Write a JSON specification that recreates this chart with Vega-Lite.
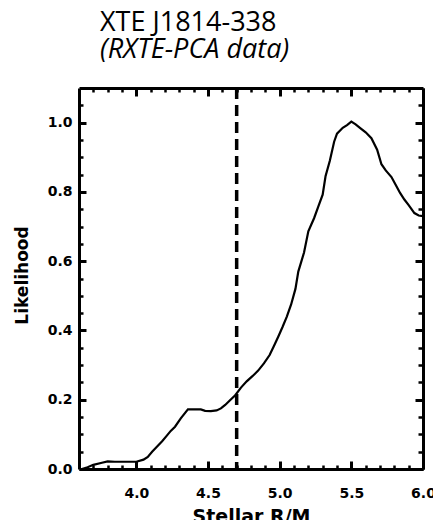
{
  "$schema": "https://vega.github.io/schema/vega-lite/v6.json",
  "width": 344,
  "height": 381,
  "autosize": {"type": "none"},
  "padding": {"left": 79, "top": 88, "right": 10, "bottom": 51},
  "background": "white",
  "title": {
    "text": "XTE J1814-338",
    "subtitle": "(RXTE-PCA data)",
    "anchor": "start",
    "frame": "group",
    "dx": 21,
    "offset": 17,
    "font": "Open Sans",
    "fontSize": 27,
    "fontWeight": "normal",
    "color": "black",
    "subtitleFont": "Open Sans",
    "subtitleFontSize": 27,
    "subtitleFontStyle": "italic",
    "subtitleColor": "black",
    "subtitlePadding": 0
  },
  "config": {
    "view": {"stroke": null},
    "axis": {
      "domainColor": "black",
      "domainWidth": 3,
      "labelColor": "black",
      "labelFont": "DejaVu Sans",
      "labelFontWeight": "bold",
      "labelFontSize": 14,
      "labelFlush": false,
      "labelOverlap": false,
      "titleColor": "black",
      "titleFont": "DejaVu Sans",
      "titleFontWeight": "bold",
      "titleFontSize": 17
    }
  },
  "datasets": {
    "curve": [
      {"R": 3.62, "L": 0.0},
      {"R": 3.66, "L": 0.005},
      {"R": 3.70, "L": 0.012},
      {"R": 3.76, "L": 0.018},
      {"R": 3.80, "L": 0.022},
      {"R": 3.85, "L": 0.021},
      {"R": 3.90, "L": 0.021},
      {"R": 4.00, "L": 0.021},
      {"R": 4.05, "L": 0.027},
      {"R": 4.08, "L": 0.035},
      {"R": 4.11, "L": 0.05},
      {"R": 4.14, "L": 0.063},
      {"R": 4.18, "L": 0.08},
      {"R": 4.21, "L": 0.095},
      {"R": 4.24, "L": 0.11},
      {"R": 4.27, "L": 0.122},
      {"R": 4.31, "L": 0.146},
      {"R": 4.36, "L": 0.172},
      {"R": 4.40, "L": 0.172},
      {"R": 4.45, "L": 0.172},
      {"R": 4.48, "L": 0.168},
      {"R": 4.52, "L": 0.167},
      {"R": 4.56, "L": 0.169},
      {"R": 4.59, "L": 0.175},
      {"R": 4.62, "L": 0.185},
      {"R": 4.65, "L": 0.197},
      {"R": 4.69, "L": 0.213},
      {"R": 4.73, "L": 0.235},
      {"R": 4.77, "L": 0.253},
      {"R": 4.81, "L": 0.268},
      {"R": 4.85, "L": 0.284},
      {"R": 4.89, "L": 0.305},
      {"R": 4.93, "L": 0.329},
      {"R": 4.96, "L": 0.355},
      {"R": 4.99, "L": 0.382},
      {"R": 5.02, "L": 0.41},
      {"R": 5.05, "L": 0.44},
      {"R": 5.08, "L": 0.475},
      {"R": 5.11, "L": 0.52},
      {"R": 5.13, "L": 0.57},
      {"R": 5.17, "L": 0.625},
      {"R": 5.20, "L": 0.686},
      {"R": 5.22, "L": 0.705},
      {"R": 5.24, "L": 0.724},
      {"R": 5.27, "L": 0.758},
      {"R": 5.30, "L": 0.792},
      {"R": 5.32, "L": 0.845},
      {"R": 5.35, "L": 0.89},
      {"R": 5.38, "L": 0.945},
      {"R": 5.40, "L": 0.968},
      {"R": 5.44, "L": 0.985},
      {"R": 5.47, "L": 0.993},
      {"R": 5.50, "L": 1.003},
      {"R": 5.53, "L": 0.995},
      {"R": 5.56, "L": 0.985},
      {"R": 5.60, "L": 0.972},
      {"R": 5.64, "L": 0.955},
      {"R": 5.68, "L": 0.922},
      {"R": 5.71, "L": 0.88},
      {"R": 5.74, "L": 0.862},
      {"R": 5.78, "L": 0.843},
      {"R": 5.81, "L": 0.82},
      {"R": 5.84, "L": 0.797},
      {"R": 5.87, "L": 0.778},
      {"R": 5.90, "L": 0.762},
      {"R": 5.94, "L": 0.739},
      {"R": 5.97, "L": 0.732},
      {"R": 6.00, "L": 0.730}
    ],
    "marker": [
      {"R": 4.7, "L": 1.1},
      {"R": 4.7, "L": 0.0}
    ]
  },
  "layer": [
    {
      "data": {"name": "curve"},
      "mark": {"type": "line", "color": "black", "strokeWidth": 2.2},
      "encoding": {
        "x": {
          "field": "R",
          "type": "quantitative",
          "scale": {"domain": [3.6, 6.0], "nice": false, "zero": false},
          "axis": {
            "orient": "bottom",
            "grid": false,
            "title": "Stellar R/M",
            "titleFontSize": 19,
            "titlePadding": 7,
            "values": [4.0, 4.5, 5.0, 5.5, 6.0],
            "format": ".1f",
            "ticks": true,
            "tickColor": "black",
            "tickOpacity": 1,
            "tickWidth": 3,
            "tickSize": -8,
            "labelPadding": 25
          }
        },
        "y": {
          "field": "L",
          "type": "quantitative",
          "scale": {"domain": [0, 1.1], "nice": false},
          "axis": {
            "orient": "left",
            "grid": false,
            "title": "Likelihood",
            "titlePadding": 16,
            "titleY": 187,
            "values": [0, 0.2, 0.4, 0.6, 0.8, 1.0],
            "format": ".1f",
            "ticks": true,
            "tickColor": "black",
            "tickOpacity": 1,
            "tickWidth": 3,
            "tickSize": -7,
            "labelPadding": 14
          }
        }
      }
    },
    {
      "data": {"name": "marker"},
      "mark": {"type": "line", "color": "black", "strokeWidth": 3.5, "strokeDash": [11, 6]},
      "encoding": {
        "x": {
          "field": "R",
          "type": "quantitative",
          "axis": {"orient": "top", "grid": false, "title": null, "labels": false, "values": [4.0, 4.5, 5.0, 5.5, 6.0], "ticks": true, "tickColor": "black", "tickOpacity": 1, "tickWidth": 3, "tickSize": -8}
        },
        "y": {
          "field": "L",
          "type": "quantitative",
          "axis": {"orient": "right", "grid": false, "title": null, "labels": false, "values": [0, 0.2, 0.4, 0.6, 0.8, 1.0], "ticks": true, "tickColor": "black", "tickOpacity": 1, "tickWidth": 3, "tickSize": -8}
        },
        "order": {"field": "L", "type": "quantitative", "sort": "descending"}
      }
    },
    {
      "data": {"name": "curve"},
      "mark": {"type": "line", "strokeOpacity": 0},
      "encoding": {
        "x": {
          "field": "R",
          "type": "quantitative",
          "axis": {"orient": "bottom", "grid": false, "domain": false, "title": null, "labels": false, "ticks": true, "tickColor": "black", "tickOpacity": 1, "tickWidth": 2.5, "tickSize": -4, "values": [3.7, 3.8, 3.9, 4.1, 4.2, 4.3, 4.4, 4.6, 4.7, 4.8, 4.9, 5.1, 5.2, 5.3, 5.4, 5.6, 5.7, 5.8, 5.9]}
        },
        "y": {
          "field": "L",
          "type": "quantitative",
          "axis": {"orient": "left", "grid": false, "domain": false, "title": null, "labels": false, "ticks": true, "tickColor": "black", "tickOpacity": 1, "tickWidth": 2.5, "tickSize": -4, "values": [0.05, 0.1, 0.15, 0.25, 0.3, 0.35, 0.45, 0.5, 0.55, 0.65, 0.7, 0.75, 0.85, 0.9, 0.95, 1.05]}
        }
      }
    },
    {
      "data": {"name": "curve"},
      "mark": {"type": "line", "strokeOpacity": 0},
      "encoding": {
        "x": {
          "field": "R",
          "type": "quantitative",
          "axis": {"orient": "top", "grid": false, "domain": false, "title": null, "labels": false, "ticks": true, "tickColor": "black", "tickOpacity": 1, "tickWidth": 2.5, "tickSize": -4, "values": [3.7, 3.8, 3.9, 4.1, 4.2, 4.3, 4.4, 4.6, 4.7, 4.8, 4.9, 5.1, 5.2, 5.3, 5.4, 5.6, 5.7, 5.8, 5.9]}
        },
        "y": {
          "field": "L",
          "type": "quantitative",
          "axis": {"orient": "right", "grid": false, "domain": false, "title": null, "labels": false, "ticks": true, "tickColor": "black", "tickOpacity": 1, "tickWidth": 2.5, "tickSize": -5, "values": [0.05, 0.1, 0.15, 0.25, 0.3, 0.35, 0.45, 0.5, 0.55, 0.65, 0.7, 0.75, 0.85, 0.9, 0.95, 1.05]}
        }
      }
    }
  ],
  "resolve": {"axis": {"x": "independent", "y": "independent"}}
}
